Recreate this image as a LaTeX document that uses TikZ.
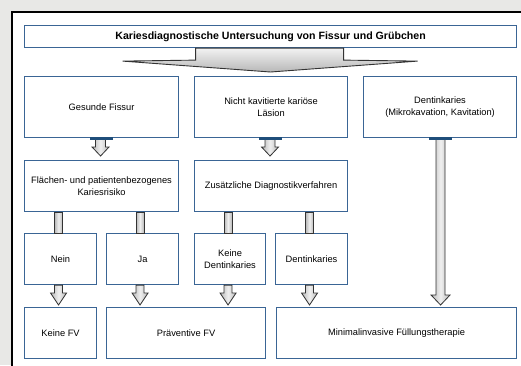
\documentclass[tikz,border=0pt]{standalone}
\usepackage{fontspec}
\setmainfont{Liberation Sans}
\usetikzlibrary{calc}
\definecolor{boxblue}{HTML}{3A6595}
\definecolor{barblue}{HTML}{1F4E7A}
\definecolor{bggray}{HTML}{E8E8E6}
\newcommand\headarrow[6]{% from, to, stem half, head half, head length, tip gap
  \path[arr] let \p1=(#1), \p2=(#2) in
    (\x1-#3pt,\y1) -- (\x1+#3pt,\y1) -- (\x1+#3pt,\y2+#5pt+#6pt) -- (\x1+#4pt,\y2+#5pt+#6pt)
    -- (\x1,\y2+#6pt) -- (\x1-#4pt,\y2+#5pt+#6pt) -- (\x1-#3pt,\y2+#5pt+#6pt) -- cycle;}
\newcommand\stembar[3]{% from (upper), to (lower, gives x), half width
  \path[arr] let \p1=(#1), \p2=(#2) in (\x2-#3pt,\y1) rectangle (\x2+#3pt,\y2);}
\newcommand\bluebar[1]{\fill[barblue] ($(#1)+(-11.5,-1.4)$) rectangle ($(#1)+(11.5,1.4)$);}
\begin{document}
\begin{tikzpicture}[x=1pt,y=-1pt,
  box/.style={draw=boxblue, line width=1.1pt, fill=white, inner sep=1pt, align=center,
    font=\fontsize{9.3}{12}\selectfont, anchor=north west},
  arr/.style={draw=black!80, line width=0.8pt, left color=black!28, right color=black!28, middle color=black!6},
  bigarr/.style={draw=black!80, line width=0.9pt, top color=black!5, bottom color=black!28}]
\path[use as bounding box] (0,0) rectangle (521,365);
\clip (0,0) rectangle (521,365);
\fill[bggray] (0,0) rectangle (521,365);
\draw[line width=1.2pt, fill=white] (12,12) rectangle (540,385);

\node[box, minimum width=492pt, minimum height=22pt, font=\fontsize{10.6}{12}\selectfont\bfseries] (title) at (24,25)
  {Kariesdiagnostische Untersuchung von Fissur und Grübchen};

\node[box, minimum width=154pt, minimum height=61pt] (g) at (24,76) {Gesunde Fissur};
\node[box, minimum width=153pt, minimum height=61pt] (n) at (194,76) {Nicht kavitierte kariöse\\Läsion};
\node[box, minimum width=153pt, minimum height=61pt] (d) at (363,76) {Dentinkaries\\(Mikrokavation, Kavitation)};

\node[box, minimum width=154pt, minimum height=51pt] (f) at (24,160) {Flächen- und patientenbezogenes\\Kariesrisiko};
\node[box, minimum width=153pt, minimum height=51pt] (z) at (194,160) {Zusätzliche Diagnostikverfahren};

\node[box, minimum width=72pt, minimum height=51pt] (nein) at (24,233) {Nein};
\node[box, minimum width=72pt, minimum height=51pt] (ja) at (106,233) {Ja};
\node[box, minimum width=71pt, minimum height=51pt] (kd) at (194,233) {Keine\\Dentinkaries};
\node[box, minimum width=72pt, minimum height=51pt] (dk) at (275,233) {Dentinkaries};

\node[box, minimum width=72pt, minimum height=51pt] (kfv) at (24,307) {Keine FV};
\node[box, minimum width=159pt, minimum height=51pt] (pfv) at (106,307) {Präventive FV};
\node[box, minimum width=240pt, minimum height=51pt] (mfv) at (276,307) {Minimalinvasive Füllungstherapie};

% big arrow from title to first row
\path[bigarr] ($(title.south)+(-75,0)$) -- ($(title.south)+(-75,12)$) -- ($(title.south)+(-148,13)$)
  -- ($(n.north)+(-0.5,-4)$) -- ($(title.south)+(147,13)$) -- ($(title.south)+(73,12)$)
  -- ($(title.south)+(73,0)$) -- cycle;

% row 1 -> row 2
\headarrow{$(g.south)+(-1,0)$}{f.north}{5}{8.5}{9}{4}
\headarrow{$(n.south)+(-1,0)$}{z.north}{5}{8.5}{9}{4}
\bluebar{$(g.south)+(-0.5,0)$}
\bluebar{$(n.south)+(-0.5,0)$}

% right tall arrow
\headarrow{$(d.south)+(0.5,0)$}{mfv.north}{4.5}{9.5}{10}{2}
\bluebar{d.south}

% row 2 -> row 3 bars
\stembar{f.south}{$(nein.north)+(-2,0)$}{4}
\stembar{f.south}{$(ja.north)+(-2.5,0)$}{4}
\stembar{z.south}{$(kd.north)+(-2,0)$}{4}
\stembar{z.south}{$(dk.north)+(-2,0)$}{4}

% row 3 -> row 4
\headarrow{$(nein.south)+(-2,0)$}{kfv.north}{4}{8}{12}{2}
\headarrow{$(ja.south)+(-2.5,0)$}{pfv.north}{4}{8}{12}{2}
\headarrow{$(kd.south)+(-2,0)$}{pfv.north}{4}{8}{12}{2}
\headarrow{$(dk.south)+(-2,0)$}{mfv.north}{4}{8}{12}{2}
\end{tikzpicture}
\end{document}
